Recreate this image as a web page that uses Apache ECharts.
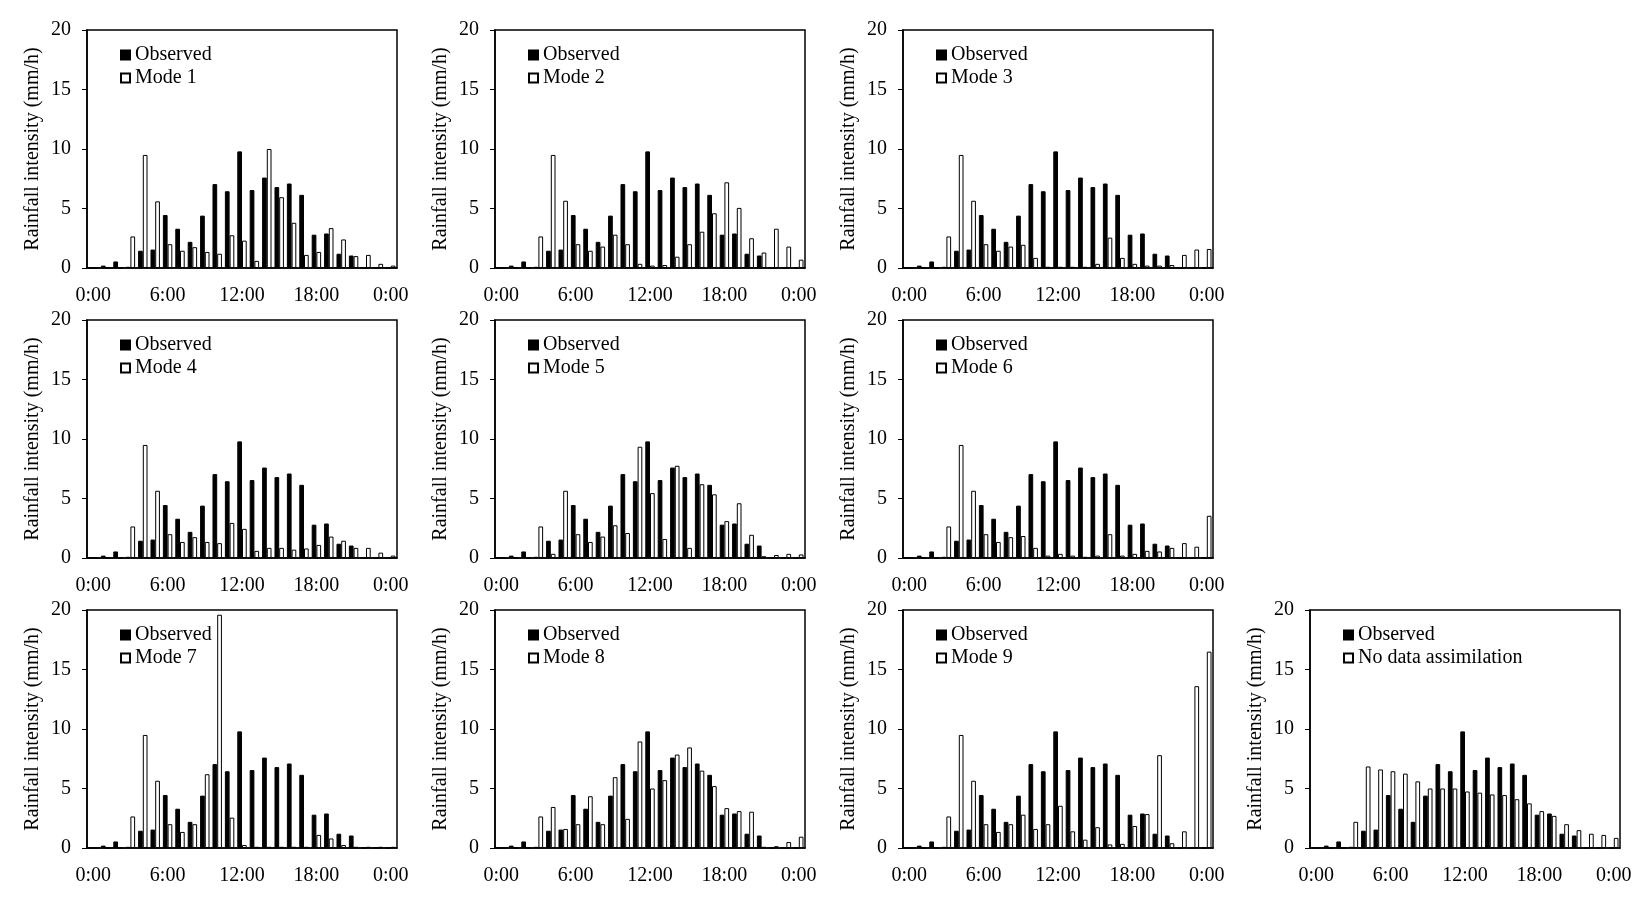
<!DOCTYPE html>
<html lang="en">
<head>
    <meta charset="UTF-8">
    <title>Rainfall intensity</title>
    <script type="text/javascript" src="https://cdn.jsdelivr.net/npm/echarts@6/dist/echarts.min.js"></script>
    <style>
        html, body { margin: 0; padding: 0; background: #fff; }
        #chart { width: 1651px; height: 900px; }
    </style>
</head>
<body>
<div id="chart"></div>

<script type="text/javascript">
    // hourly categories, 0:00 .. 24:00
    var hours = ['0:00', '1:00', '2:00', '3:00', '4:00', '5:00', '6:00', '7:00', '8:00', '9:00', '10:00', '11:00', '12:00',
                 '13:00', '14:00', '15:00', '16:00', '17:00', '18:00', '19:00', '20:00', '21:00', '22:00', '23:00', '0:00'];
    var yTicks = [0, 5, 10, 15, 20];

    var observed = [0, 0.2, 0.55, 0.1, 1.45, 1.55, 4.45, 3.3, 2.2, 4.4, 7.05, 6.45, 9.8, 6.55, 7.6, 6.8, 7.1, 6.15, 2.8, 2.9, 1.2, 1.05, 0, 0, 0];

    var mode1 = [0, 0, 0, 2.65, 9.5, 5.6, 2.0, 1.45, 1.75, 1.35, 1.2, 2.75, 2.3, 0.6, 10.0, 5.95, 3.8, 1.1, 1.35, 3.35, 2.4, 1.0, 1.1, 0.35, 0.2];
    var mode2 = [0, 0, 0, 2.65, 9.5, 5.65, 2.0, 1.45, 1.8, 2.8, 2.0, 0.35, 0.2, 0.25, 0.95, 2.0, 3.05, 4.6, 7.2, 5.05, 2.5, 1.3, 3.3, 1.8, 0.7];
    var mode3 = [0, 0, 0, 2.65, 9.5, 5.65, 2.0, 1.45, 1.8, 1.95, 0.85, 0.1, 0.1, 0.1, 0.1, 0.35, 2.55, 0.85, 0.35, 0.2, 0.2, 0.25, 1.1, 1.55, 1.6];
    var mode4 = [0, 0, 0, 2.65, 9.5, 5.65, 2.0, 1.35, 1.75, 1.35, 1.25, 2.95, 2.45, 0.6, 0.85, 0.85, 0.7, 0.8, 1.1, 1.8, 1.45, 0.85, 0.85, 0.45, 0.2];
    var mode5 = [0, 0, 0, 2.65, 0.35, 5.65, 2.0, 1.35, 1.8, 2.75, 2.1, 9.35, 5.45, 1.6, 7.75, 0.85, 6.2, 5.35, 3.1, 4.6, 1.95, 0.15, 0.25, 0.35, 0.3];
    var mode6 = [0, 0, 0, 2.65, 9.5, 5.65, 2.0, 1.35, 1.75, 1.85, 0.85, 0.2, 0.35, 0.2, 0.1, 0.2, 2.0, 0.2, 0.35, 0.6, 0.55, 0.85, 1.25, 0.95, 3.55];
    var mode7 = [0, 0, 0, 2.65, 9.5, 5.65, 2.0, 1.35, 2.0, 6.2, 19.6, 2.55, 0.25, 0.1, 0.1, 0.1, 0.1, 0.1, 1.1, 0.8, 0.25, 0.1, 0.1, 0.1, 0.1];
    var mode8 = [0, 0, 0, 2.65, 3.45, 1.6, 2.0, 4.35, 2.0, 5.95, 2.45, 8.95, 5.0, 5.7, 7.85, 8.45, 6.5, 5.2, 3.35, 3.1, 3.05, 0.1, 0.15, 0.5, 0.95];
    var mode9 = [0, 0, 0, 2.65, 9.5, 5.65, 2.0, 1.35, 2.0, 2.8, 1.6, 2.0, 3.55, 1.4, 0.7, 1.75, 0.3, 0.35, 1.85, 2.85, 7.8, 0.4, 1.4, 13.6, 16.5];
    var noAssim = [0, 0, 0, 2.2, 6.85, 6.6, 6.45, 6.25, 5.6, 5.0, 5.0, 5.0, 4.75, 4.65, 4.5, 4.45, 4.1, 3.75, 3.1, 2.7, 2.0, 1.5, 1.2, 1.1, 0.85];

    var panelNames = ['Mode 1', 'Mode 2', 'Mode 3', 'Mode 4', 'Mode 5', 'Mode 6', 'Mode 7', 'Mode 8', 'Mode 9', 'No data assimilation'];
    var panelData = [mode1, mode2, mode3, mode4, mode5, mode6, mode7, mode8, mode9, noAssim];

    // panel positions (left, top) of each plot area
    var panelPos = [
        [87, 30], [495, 30], [903, 30],
        [87, 320], [495, 320], [903, 320],
        [87, 610], [495, 610], [903, 610], [1310, 610]
    ];

    var font = '"Liberation Serif", "Times New Roman", serif';
    var grids = [], xAxes = [], yAxes = [], series = [], legends = [];

    for (var i = 0; i < panelData.length; i++) {
        grids.push({
            left: panelPos[i][0], top: panelPos[i][1], width: 310, height: 238,
            show: true, borderColor: '#000', borderWidth: 1.5, backgroundColor: '#fff'
        });
        xAxes.push({
            type: 'category', gridIndex: i, data: hours,
            axisLine: { show: true, lineStyle: { color: '#000', width: 1.5 } },
            axisTick: { show: false },
            axisLabel: { interval: 5, color: '#000', fontFamily: font, fontSize: 20, margin: 18 },
            splitLine: { show: false }
        });
        yAxes.push({
            type: 'value', gridIndex: i, min: yTicks[0], max: yTicks[yTicks.length - 1], interval: 5,
            name: 'Rainfall intensity (mm/h)', nameLocation: 'middle', nameGap: 44,
            nameTextStyle: { color: '#000', fontFamily: font, fontSize: 20 },
            axisLine: { show: true, lineStyle: { color: '#000', width: 1.5 } },
            axisTick: { show: true, length: 5, lineStyle: { color: '#000' } },
            axisLabel: { color: '#000', fontFamily: font, fontSize: 20, margin: 16 },
            splitLine: { show: false }
        });
        series.push({
            name: 'Observed', type: 'bar', xAxisIndex: i, yAxisIndex: i,
            data: observed, barWidth: '38%', barGap: '0%',
            itemStyle: { color: '#000', borderColor: '#000', borderWidth: 1 }
        });
        series.push({
            name: panelNames[i], type: 'bar', xAxisIndex: i, yAxisIndex: i,
            data: panelData[i], barWidth: '38%', barGap: '0%',
            itemStyle: { color: '#fff', borderColor: '#000', borderWidth: 1 }
        });
        legends.push({
            data: ['Observed', panelNames[i]],
            orient: 'vertical', left: panelPos[i][0] + 28, top: panelPos[i][1] + 10,
            icon: 'rect', itemWidth: 9, itemHeight: 9, itemGap: 3, itemTextGap: 4, selectedMode: false,
            textStyle: { color: '#000', fontFamily: font, fontSize: 20 }
        });
    }

    var myChart = echarts.init(document.getElementById('chart'));
    myChart.setOption({
        animation: false,
        backgroundColor: '#fff',
        legend: legends,
        grid: grids,
        xAxis: xAxes,
        yAxis: yAxes,
        series: series
    });
</script>

</body>
</html>
